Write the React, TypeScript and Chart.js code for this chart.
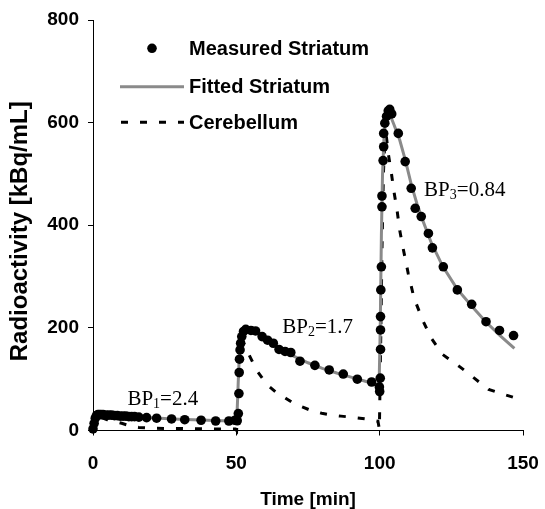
import { useEffect, useRef } from "react";
import { Chart, registerables } from "chart.js";

Chart.register(...registerables);

// ---- data ----
const measuredT = [
  0, 0.4, 0.8, 1.2, 1.7, 2.2, 2.8, 3.5, 4.5, 5.5, 6.5, 7.5, 8.5, 9.5, 10.5, 11.5, 12.5, 13.5, 14.5, 16,
  18.7, 22.2, 27.4, 32, 37.7, 42.8, 47.4, 49.5,
  50.3, 50.7, 50.9, 51, 51.1, 51.3, 51.5, 51.9, 52.5, 53.3, 55.1, 56.7, 59, 60.9, 62.9, 64.9, 67, 69,
  72.2, 77.4, 82.4, 87.3, 92.2, 97.2, 99.9, 100,
  100.2, 100.3, 100.3, 100.3, 100.4, 100.6, 100.8, 100.8, 101.2, 101.4, 101.4, 101.8, 102.4, 103, 103.5,
  104.2, 106.5, 108.9, 111, 112.4, 114.5, 117, 118.4, 122.2, 127.1, 132.1, 137.1, 141.8, 146.7,
];
const measuredV = [
  3, 14, 24, 29, 31, 31, 31, 31, 30, 30, 30, 29, 29, 28, 28, 28, 27, 27, 27, 26,
  25, 24, 22.5, 21, 20, 18.5, 18.5, 20,
  19, 33, 72, 113, 139, 157, 170, 183, 193, 197, 195, 194, 183, 176, 170, 158, 154, 152,
  135, 127, 118, 110, 100, 94.5, 85, 76,
  102, 158, 196, 222, 274, 319, 436, 457, 526, 553, 579, 599, 612, 623, 626,
  617, 579, 524, 472, 433, 417, 384, 356, 319, 274, 246, 212, 195, 185,
];

const fittedT = [
  0, 0.5, 1, 1.5, 2, 3, 5, 10, 15, 20, 25, 30, 35, 40, 45, 49.8,
  50.3, 50.7, 51, 51.5, 52, 52.7, 53.5, 55, 57, 60, 63, 66, 70, 75, 80, 85, 90, 95, 99.8,
  100.2, 100.6, 101, 101.5, 102, 102.5, 103.2, 104, 105, 107, 109, 111, 113, 115, 118, 122, 127, 132,
  137, 142, 147,
];
const fittedV = [
  0, 18, 27, 30, 31, 31, 30, 28, 26.5, 25, 23.5, 22, 21, 20, 19, 18.5,
  40, 100, 140, 170, 185, 195, 198, 196, 190, 180, 168, 157, 145, 132, 121, 112, 104, 96, 88,
  200, 380, 500, 570, 602, 615, 620, 610, 596, 566, 526, 480, 442, 410, 366, 320, 276, 243,
  212, 185, 160,
];

const cerebT = [
  0, 0.5, 1, 1.5, 2.2, 3, 5, 7, 10, 13, 16, 20, 25, 30, 35, 40, 45, 49.7,
  50.1, 50.5, 51, 51.5, 52, 53, 54.2, 55.8, 57.4, 59.3, 61.2, 64, 67.2, 70, 73.4, 76.5, 79.8, 83, 86.5,
  90, 93.1, 96, 99.4, 99.9,
  100.3, 100.8, 101.3, 101.8, 102.3, 103, 104, 105, 106, 107, 108, 110, 112, 115, 118, 122, 128, 133,
  138, 143, 147,
];
const cerebV = [
  0, 15, 24, 27, 27, 25, 21, 18, 14, 9, 6, 4.5, 4, 4, 3.5, 3, 3, 3,
  0, 60, 140, 172, 178, 165, 150, 132, 115, 100, 87, 74, 63, 53, 45, 38, 33.5, 30, 28,
  26, 24, 22, 18, 3,
  150, 350, 500, 565, 575, 540, 505, 465, 432, 390, 360, 305, 258, 215, 180, 148, 124, 102,
  80, 71, 64,
];

const xTicks = [0, 50, 100, 150];
const yTicks = [0, 200, 400, 600, 800];
const seriesNames = ["Measured Striatum", "Fitted Striatum", "Cerebellum"];
const yTitle = "Radioactivity [kBq/mL]";
const xTitle = "Time [min]";
const bpSubs = ["1", "2", "3"];
const bpValues = ["2.4", "1.7", "0.84"];
const bpAnchorT = [12, 66, 115.5];
const bpAnchorV = [50, 190, 457];

const SANS = '"Liberation Sans", Arial, sans-serif';
const SERIF = '"Liberation Serif", "Times New Roman", serif';
const GRAY = "#8a8a8a";
const DASH = [7, 12];

const toXY = (ts: number[], vs: number[]) => ts.map((t, i) => ({ x: t, y: vs[i] }));

const overlayPlugin = {
  id: "overlay",
  afterDatasetsDraw(chart: any) {
    const { ctx, chartArea, scales } = chart;
    const L = chartArea.left;
    const T = chartArea.top;
    ctx.save();
    // y-axis title
    ctx.save();
    ctx.translate(20, (chartArea.top + chartArea.bottom) / 2 + 6);
    ctx.rotate(-Math.PI / 2);
    ctx.font = `bold 24px ${SANS}`;
    ctx.fillStyle = "#000";
    ctx.textAlign = "center";
    ctx.textBaseline = "middle";
    ctx.fillText(yTitle, 0, 0);
    ctx.restore();
    // legend
    ctx.fillStyle = "#000";
    ctx.font = `bold 20px ${SANS}`;
    ctx.textBaseline = "alphabetic";
    ctx.textAlign = "left";
    const textX = L + 96;
    const rows = [T + 28.3, T + 66.7, T + 102.3];
    ctx.beginPath();
    ctx.arc(L + 59, rows[0], 4.8, 0, Math.PI * 2);
    ctx.fill();
    ctx.strokeStyle = GRAY;
    ctx.lineWidth = 3;
    ctx.beginPath();
    ctx.moveTo(L + 27, rows[1]);
    ctx.lineTo(L + 91, rows[1]);
    ctx.stroke();
    ctx.strokeStyle = "#000";
    ctx.setLineDash(DASH);
    ctx.beginPath();
    ctx.moveTo(L + 28, rows[2]);
    ctx.lineTo(L + 91, rows[2]);
    ctx.stroke();
    ctx.setLineDash([]);
    seriesNames.forEach((name, i) => {
      ctx.fillText(name, textX, rows[i] + 6.5);
    });
    // BP annotations
    bpSubs.forEach((sub, i) => {
      const x = scales.x.getPixelForValue(bpAnchorT[i]);
      const y = scales.y.getPixelForValue(bpAnchorV[i]);
      ctx.font = `21px ${SERIF}`;
      ctx.fillText("BP", x, y);
      let w = ctx.measureText("BP").width;
      ctx.font = `14px ${SERIF}`;
      ctx.fillText(sub, x + w, y + 3);
      w += ctx.measureText(sub).width;
      ctx.font = `21px ${SERIF}`;
      ctx.fillText("=" + bpValues[i], x + w, y);
    });
    ctx.restore();
  },
};

export default function App() {
  const ref = useRef<HTMLCanvasElement | null>(null);
  useEffect(() => {
    if (!ref.current) return;
    const chart = new Chart(ref.current, {
      type: "scatter",
      data: {
        datasets: [
          {
            label: seriesNames[0],
            data: toXY(measuredT, measuredV),
            showLine: false,
            pointRadius: 4.8,
            pointHoverRadius: 4.8,
            pointBackgroundColor: "#000",
            pointBorderColor: "#000",
            pointBorderWidth: 0,
            clip: false,
          },
          {
            label: seriesNames[1],
            data: toXY(fittedT, fittedV),
            showLine: true,
            borderColor: GRAY,
            borderWidth: 3,
            pointRadius: 0,
            tension: 0,
            clip: false,
          },
          {
            label: seriesNames[2],
            data: toXY(cerebT, cerebV),
            showLine: true,
            borderColor: "#000",
            borderWidth: 3,
            borderDash: DASH,
            pointRadius: 0,
            tension: 0,
            clip: false,
          },
        ],
      },
      options: {
        responsive: false,
        animation: false,
        devicePixelRatio: 1,
        layout: { padding: { left: 0, top: 20, right: 22, bottom: 0 } },
        plugins: { legend: { display: false }, tooltip: { enabled: false } },
        scales: {
          x: {
            type: "linear",
            min: 0,
            max: 150,
            afterFit: (s: any) => {
              s.height = 78.5;
              s.paddingLeft = 0;
              s.paddingRight = 0;
            },
            afterBuildTicks: (s: any) => {
              s.ticks = xTicks.map((v) => ({ value: v }));
            },
            ticks: {
              color: "#000",
              font: { family: SANS, size: 19, weight: "bold" },
              padding: 17,
              maxRotation: 0,
            },
            grid: { drawOnChartArea: false, drawTicks: true, tickLength: 5, color: "#000", tickWidth: 1 },
            border: { display: true, color: "#000", width: 1 },
            title: {
              display: true,
              text: xTitle,
              color: "#000",
              font: { family: SANS, size: 19, weight: "bold", lineHeight: 1 },
              padding: { top: 0, bottom: 0 },
            },
          },
          y: {
            type: "linear",
            min: 0,
            max: 800,
            afterFit: (s: any) => {
              s.width = 93;
              s.paddingTop = 0;
              s.paddingBottom = 0;
            },
            afterBuildTicks: (s: any) => {
              s.ticks = yTicks.map((v) => ({ value: v }));
            },
            ticks: {
              color: "#000",
              font: { family: SANS, size: 19, weight: "bold" },
              padding: 9,
            },
            grid: { drawOnChartArea: false, drawTicks: true, tickLength: 5, color: "#000", tickWidth: 1 },
            border: { display: true, color: "#000", width: 1 },
            title: { display: false },
          },
        },
      },
      plugins: [overlayPlugin],
    });
    return () => chart.destroy();
  }, []);
  return (
    <div style={{ position: "fixed", left: 0, top: 0, width: 545, height: 509, background: "#fff" }}>
      <canvas ref={ref} width={545} height={509} style={{ display: "block" }} />
    </div>
  );
}
